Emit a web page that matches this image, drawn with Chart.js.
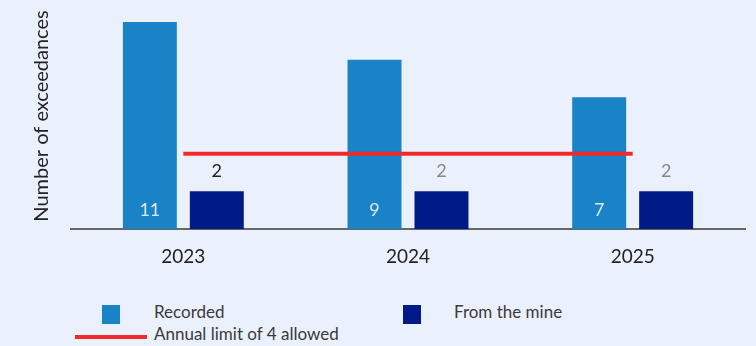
<!DOCTYPE html>
<html>
<head>
<meta charset="utf-8">
<script src="https://cdn.jsdelivr.net/npm/chart.js@4"></script>
<style>
  html, body { margin: 0; padding: 0; background: #ebf1fc; }
  body { width: 756px; height: 346px; position: relative; overflow: hidden; font-family: Lato, sans-serif; }
  #wrap { position: absolute; left: 0; top: 0; width: 756px; height: 280px; }
  .lg { position: absolute; color: #3a3a3a; font-size: 17px; line-height: 20px; white-space: nowrap; }
  .sw { position: absolute; }
</style>
</head>
<body>
<div id="wrap"><canvas id="chart"></canvas></div>

<!-- legend -->
<div class="sw" style="left:102px;top:305px;width:18px;height:19px;background:#1a82c6"></div>
<div class="lg" style="left:154px;top:302px">Recorded</div>
<div class="sw" style="left:403px;top:305px;width:18px;height:19px;background:#001a88"></div>
<div class="lg" style="left:454px;top:302px">From the mine</div>
<div class="sw" style="left:75px;top:335px;width:72px;height:4px;background:#ee2b2b"></div>
<div class="lg" style="left:154px;top:324px">Annual limit of 4 allowed</div>

<script>
const years = ['2023', '2024', '2025'];
const recorded = [11, 9, 7];
const fromMine = [2, 2, 2];
const annualLimit = [4, 4, 4];
const yMax = 11;

// value labels + rotated y title
const labelPlugin = {
  id: 'valueLabels',
  afterDatasetsDraw(chart) {
    const ctx = chart.ctx;
    ctx.save();
    ctx.font = '18px Lato';
    ctx.textAlign = 'center';
    ctx.textBaseline = 'middle';

    chart.getDatasetMeta(0).data.forEach((bar, i) => {
      ctx.fillStyle = '#d9e9f6';
      ctx.fillText(recorded[i], bar.x, bar.base - 19);
    });
    const mineColors = ['#222', '#888', '#888'];
    chart.getDatasetMeta(1).data.forEach((bar, i) => {
      ctx.fillStyle = mineColors[i];
      ctx.fillText(fromMine[i], bar.x, bar.y - 20);
    });

    ctx.translate(42, 116);
    ctx.rotate(-Math.PI / 2);
    ctx.fillStyle = '#222';
    ctx.font = '20px Lato';
    ctx.fillText('Number of exceedances', 0, 0);
    ctx.restore();
  }
};

new Chart(document.getElementById('chart'), {
  type: 'bar',
  data: {
    labels: years,
    datasets: [
      {
        label: 'Recorded',
        data: recorded,
        backgroundColor: '#1a82c6',
        barPercentage: 0.806,
        categoryPercentage: 0.596,
        order: 2
      },
      {
        label: 'From the mine',
        data: fromMine,
        backgroundColor: '#001a88',
        barPercentage: 0.806,
        categoryPercentage: 0.596,
        order: 2
      },
      {
        type: 'line',
        label: 'Annual limit of 4 allowed',
        data: annualLimit,
        borderColor: '#ee2b2b',
        borderWidth: 4,
        pointRadius: 0,
        fill: false,
        order: 1
      }
    ]
  },
  options: {
    responsive: true,
    maintainAspectRatio: false,
    animation: false,
    layout: { padding: { left: 71, right: 11, top: 22, bottom: 0 } },
    plugins: { legend: { display: false }, tooltip: { enabled: false } },
    scales: {
      x: {
        grid: { display: false },
        border: { display: true, color: '#666', width: 2 },
        ticks: { color: '#222', font: { family: 'Lato', size: 19 }, padding: 8 },
        afterFit(scale) { scale.height = 51; }
      },
      y: {
        display: false,
        min: 0,
        max: yMax
      }
    }
  },
  plugins: [labelPlugin]
});
</script>
</body>
</html>
